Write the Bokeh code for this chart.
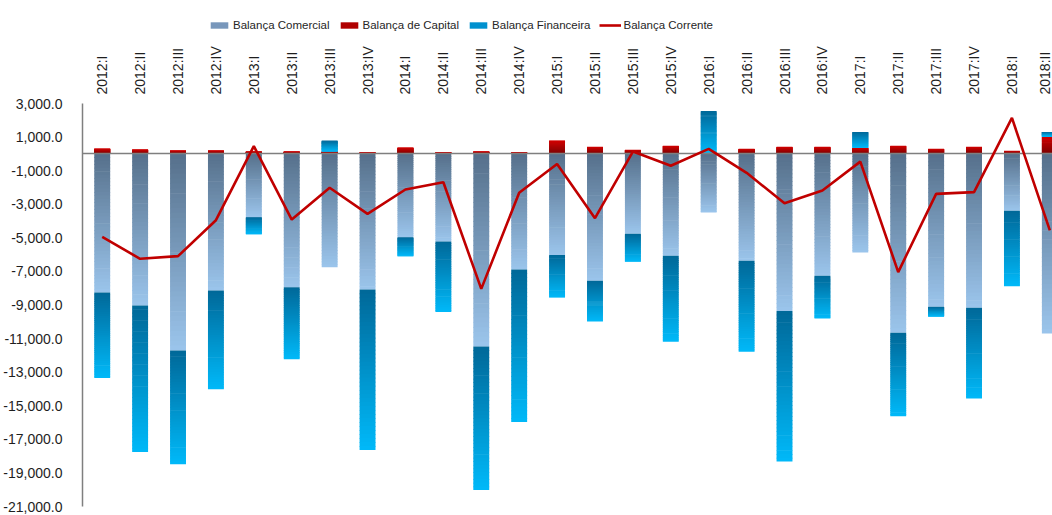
import math
from bokeh.plotting import figure
from bokeh.layouts import column
from bokeh.models import (Range1d, FixedTicker, NumeralTickFormatter, Legend,
                          LegendItem, ColumnDataSource)
from bokeh.embed import file_html
from bokeh.resources import INLINE

# ---------------- data (millions) ----------------
quarters = ["2012:I", "2012:II", "2012:III", "2012:IV",
            "2013:I", "2013:II", "2013:III", "2013:IV",
            "2014:I", "2014:II", "2014:III", "2014:IV",
            "2015:I", "2015:II", "2015:III", "2015:IV",
            "2016:I", "2016:II", "2016:III", "2016:IV",
            "2017:I", "2017:II", "2017:III", "2017:IV",
            "2018:I", "2018:II"]

comercial = [-8250, -9030, -11710, -8130,
             -3770, -7940, -6750, -8080,
             -4960, -5220, -11470, -6880,
             -6020, -7560, -4760, -6070,
             -3490, -6370, -9350, -7260,
             -5870, -10650, -9110, -9170,
             -3390, -10690]

capital = [320, 260, 200, 200,
           140, 140, 140, 80,
           380, 80, 140, 80,
           800, 420, 240, 480,
           30, 300, 420, 420,
           360, 480, 300, 420,
           180, 1030]

financeira = [-5100, -8730, -6770, -5890,
              -1010, -4290, 650, -9560,
              -1130, -4200, -8550, -9090,
              -2540, -2420, -1670, -5120,
              2530, -5420, -8970, -2540,
              950, -4980, -570, -5400,
              -4500, 280]

corrente = [-4940, -6250, -6090, -3950,
            460, -3910, -2020, -3570,
            -2120, -1690, -8040, -2320,
            -600, -3830, 140, -710,
            300, -1130, -2940, -2180,
            -460, -7040, -2380, -2280,
            2140, -4560]

y_ticks = list(range(3000, -21001, -2000))

# ---------------- helpers ----------------
N_SLICES = 40
BAR_W = 0.42
OVERLAP = 40  # data units, hides seams between gradient slices


def hex2rgb(h):
    h = h.lstrip("#")
    return tuple(int(h[i:i + 2], 16) for i in (0, 2, 4))


def mix(c1, c2, t):
    a, b = hex2rgb(c1), hex2rgb(c2)
    return "#%02x%02x%02x" % tuple(int(round(a[i] + (b[i] - a[i]) * t)) for i in range(3))


def gradient_source(xs, tops, bottoms, c_top, c_bot, n=N_SLICES):
    d = dict(x=[], top=[], bottom=[], color=[])
    for x, t, b in zip(xs, tops, bottoms):
        if t - b <= 0:
            continue
        h = t - b
        for k in range(n):
            s_top = t - h * k / n
            s_bot = t - h * (k + 1) / n
            if k < n - 1:
                s_bot = max(s_bot - OVERLAP, b)
            d["x"].append(x)
            d["top"].append(s_top)
            d["bottom"].append(s_bot)
            d["color"].append(mix(c_top, c_bot, (k + 0.5) / n))
    return ColumnDataSource(d)


xs = list(range(len(quarters)))

com_src = gradient_source(xs, [0] * len(xs), comercial, "#56708b", "#9bc5ec")
cap_src = gradient_source(xs, capital, [0] * len(xs), "#d40000", "#7a0000")
fin_top, fin_bot = [], []
for c, k, f in zip(comercial, capital, financeira):
    if f < 0:
        fin_top.append(c)
        fin_bot.append(c + f)
    else:
        fin_top.append(k + f)
        fin_bot.append(k)
fin_src = gradient_source(xs, fin_top, fin_bot, "#006898", "#00b9f9")

# ---------------- main figure ----------------
FONT = "Liberation Sans"
p = figure(frame_width=970, frame_height=403,
           x_range=Range1d(-0.52, 25.07), y_range=Range1d(-21000, 3000),
           x_axis_location="above", output_backend="svg",
           toolbar_location=None, min_border_left=74, min_border_right=0,
           min_border_top=71, min_border_bottom=9)
p.outline_line_color = None
p.xgrid.visible = False
p.ygrid.visible = False
p.background_fill_color = "white"
p.border_fill_color = "white"

p.vbar(x="x", top="top", bottom="bottom", width=BAR_W, source=com_src,
       fill_color="color", line_color=None)
p.vbar(x="x", top="top", bottom="bottom", width=BAR_W, source=cap_src,
       fill_color="color", line_color=None)
p.vbar(x="x", top="top", bottom="bottom", width=BAR_W, source=fin_src,
       fill_color="color", line_color=None)

p.hspan(y=[0], line_color="#7f7f7f", line_width=1.6)

p.line(xs, corrente, line_color="#c00000", line_width=2.6)

yax = p.yaxis[0]
yax.ticker = FixedTicker(ticks=y_ticks)
yax.formatter = NumeralTickFormatter(format="0,0.0")
yax.axis_line_color = "#7f7f7f"
yax.axis_line_width = 1.5
yax.major_tick_line_color = None
yax.minor_tick_line_color = None
yax.major_label_text_font = FONT
yax.major_label_text_font_size = "14px"
yax.major_label_text_color = "#1e1e1e"
yax.major_label_standoff = 14

xax = p.xaxis[0]
xax.ticker = FixedTicker(ticks=xs)
xax.major_label_overrides = {i: q for i, q in enumerate(quarters)}
xax.major_label_orientation = math.pi / 2
xax.axis_line_color = None
xax.major_tick_line_color = None
xax.minor_tick_line_color = None
xax.major_label_text_font = FONT
xax.major_label_text_font_size = "14px"
xax.major_label_text_color = "#1e1e1e"
xax.major_label_standoff = 3

# ---------------- legend strip ----------------
lg = figure(width=1044, height=32, x_range=Range1d(0, 1), y_range=Range1d(0, 1),
            x_axis_location=None, y_axis_location=None,
            output_backend="svg", toolbar_location=None,
            min_border_left=0, min_border_right=0, min_border_top=0, min_border_bottom=0)
lg.grid.visible = False
lg.outline_line_color = None
lg.border_fill_color = "white"

# legend-key renderers: their single point lies outside the strip's range
key = ColumnDataSource(dict(x=[5], y=[5]))
k_com = lg.vbar(x="x", top="y", width=0.1, source=key, fill_color="#7897bb", line_color=None)
k_cap = lg.vbar(x="x", top="y", width=0.1, source=key, fill_color="#b00000", line_color=None)
k_fin = lg.vbar(x="x", top="y", width=0.1, source=key, fill_color="#0091cf", line_color=None)
k_cor = lg.line(x="x", y="y", source=key, line_color="#c00000", line_width=2.6)

legend = Legend(items=[
    LegendItem(label="Balança Comercial", renderers=[k_com]),
    LegendItem(label="Balança de Capital", renderers=[k_cap]),
    LegendItem(label="Balança Financeira", renderers=[k_fin]),
    LegendItem(label="Balança Corrente", renderers=[k_cor]),
], orientation="horizontal", location=(126, 1),
    label_text_font=FONT,
    label_text_font_size="11.5px", label_text_color="#262626",
    glyph_width=22, glyph_height=8, label_standoff=3, spacing=8,
    padding=4, margin=0, border_line_color=None, background_fill_alpha=0)
lg.add_layout(legend, "center")

layout = column(lg, p, spacing=0)
open("out.html", "w").write(file_html(layout, INLINE))
